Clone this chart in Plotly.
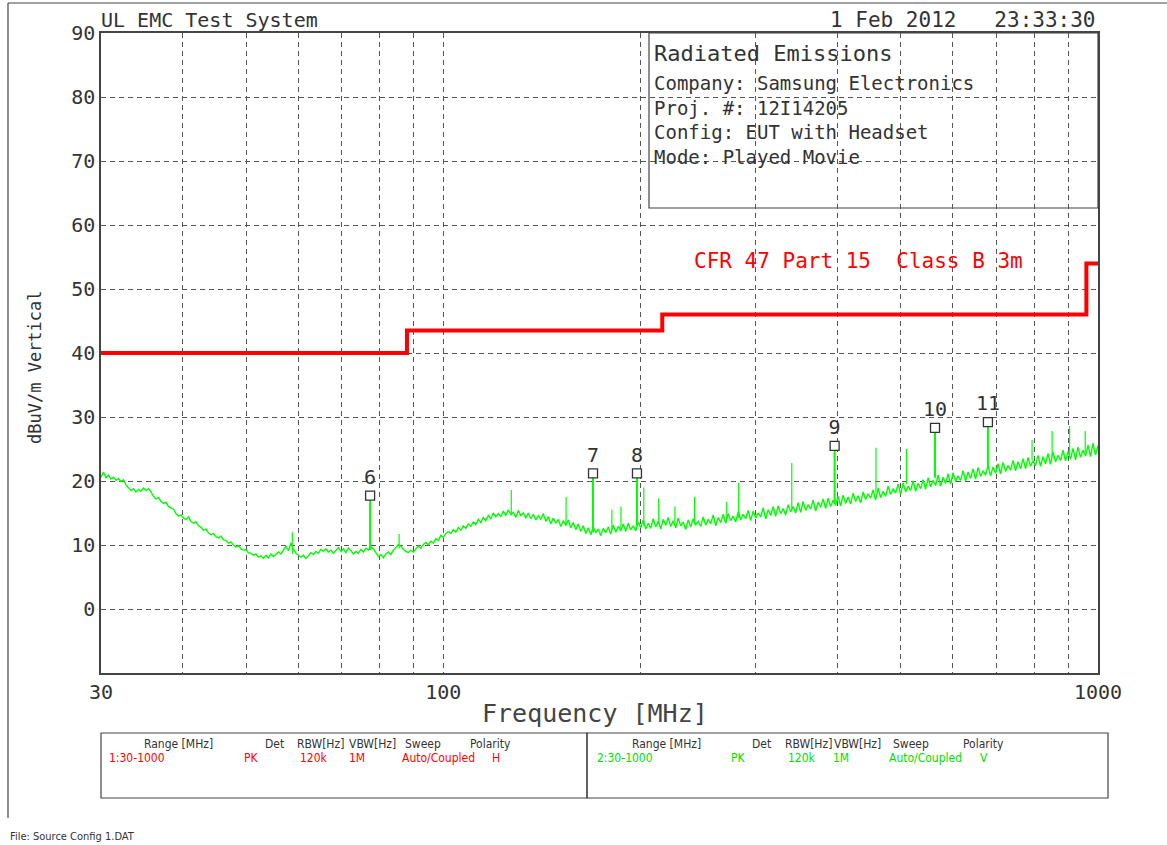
import numpy as np
import plotly.graph_objects as go

# ---------------- data ----------------
# measured (vertical polarity) peak trace, read off the picture, 30 -> 1000 MHz sweep
floor_levels = [
    20.6, 21.4, 20.5, 20.9, 20.3, 20.6, 20.1, 20.4, 19.9, 20.2,
    19.4, 19.0, 18.5, 18.8, 18.3, 18.7, 18.4, 18.9, 18.5, 18.8,
    18.3, 17.6, 17.2, 17.4, 16.8, 16.5, 16.7, 16.0, 15.8, 15.6,
    14.9, 14.5, 14.7, 14.2, 14.0, 14.4, 13.7, 13.4, 13.6, 13.0,
    12.8, 12.3, 12.5, 11.9, 11.6, 11.8, 11.3, 11.1, 11.4, 10.8,
    10.7, 10.3, 10.5, 10.0, 9.7, 9.9, 9.4, 9.2, 9.3, 8.8,
    8.7, 8.4, 8.6, 8.1, 8.3, 7.9, 8.4, 8.0, 8.6, 8.2,
    8.5, 8.9, 8.6, 9.3, 9.8, 9.1, 10.3, 9.4, 8.7, 8.4,
    8.1, 8.4, 7.9, 8.3, 8.8, 8.5, 9.0, 8.7, 9.3, 9.0,
    9.4, 8.9, 9.2, 8.7, 9.1, 9.6, 9.0, 9.4, 8.8, 9.5,
    9.1, 8.6, 9.0, 8.7, 9.3, 8.9, 9.5, 9.2, 9.7, 9.4,
    8.8, 8.2, 8.5, 8.0, 8.6, 8.9, 8.5, 9.2, 9.6, 10.1,
    9.8, 9.3, 9.0, 8.8, 9.2, 8.9, 9.4, 9.8, 9.5, 10.1,
    10.4, 10.0, 10.6, 10.3, 11.0, 10.7, 11.5, 11.2, 11.8, 12.1,
    11.8, 12.4, 12.0, 12.7, 12.3, 13.0, 12.6, 13.3, 12.9, 13.6,
    13.2, 14.0, 13.5, 14.3, 13.8, 14.6, 14.1, 15.0, 14.4, 14.9,
    14.5, 15.3, 14.6, 15.5, 14.8, 15.1, 14.3, 15.4, 14.6, 15.0,
    14.2, 15.0, 14.1, 14.8, 13.9, 14.6, 14.0, 14.9, 13.7, 14.4,
    13.3, 14.2, 13.4, 14.0, 12.9, 13.8, 13.1, 13.9, 12.7, 13.5,
    12.4, 13.3, 12.1, 13.0, 11.8, 12.7, 11.6, 12.8, 11.9, 12.5,
    11.5, 12.6, 11.9, 12.8, 11.7, 13.1, 12.0, 12.9, 12.2, 13.3,
    12.1, 13.4, 12.4, 13.0, 12.2, 13.6, 12.7, 13.9, 12.5, 13.4,
    12.6, 14.1, 12.8, 13.7, 12.5, 14.0, 13.1, 14.3, 12.9, 13.8,
    12.7, 14.2, 13.0, 13.6, 12.4, 13.9, 12.8, 14.1, 13.2, 13.7,
    12.9, 14.4, 13.1, 14.0, 13.3, 14.7, 13.0, 14.3, 13.5, 14.8,
    13.4, 14.9, 13.8, 14.5, 13.6, 15.2, 13.9, 14.8, 14.1, 15.4,
    13.8, 15.3, 14.2, 15.0, 14.4, 15.8, 14.1, 15.5, 14.6, 16.0,
    14.5, 16.1, 14.9, 15.7, 14.7, 16.3, 15.2, 16.0, 15.0, 16.6,
    15.1, 16.8, 15.4, 16.3, 15.6, 17.0, 15.3, 16.7, 15.9, 17.2,
    15.7, 17.3, 16.0, 17.0, 16.2, 17.6, 16.1, 17.8, 16.5, 17.5,
    16.4, 18.1, 16.8, 17.7, 16.6, 18.3, 17.1, 18.0, 17.3, 18.6,
    17.0, 18.9, 17.4, 18.4, 17.6, 19.2, 17.9, 18.8, 18.1, 19.5,
    17.9, 19.7, 18.3, 19.2, 18.5, 20.0, 18.4, 19.6, 18.8, 20.2,
    18.7, 20.5, 19.1, 20.1, 19.3, 20.9, 19.2, 20.6, 19.6, 21.1,
    19.5, 21.3, 19.9, 20.8, 20.1, 21.6, 20.0, 21.4, 20.4, 21.9,
    20.3, 22.1, 20.7, 21.6, 20.9, 22.4, 20.8, 22.2, 21.2, 22.7,
    21.1, 22.9, 21.5, 22.4, 21.7, 23.2, 21.6, 23.0, 21.9, 23.5,
    21.9, 23.7, 22.3, 23.2, 22.4, 24.0, 22.3, 23.8, 22.7, 24.3,
    22.6, 24.5, 23.0, 24.0, 23.2, 24.8, 23.1, 24.6, 23.4, 25.1,
    23.3, 25.3, 23.7, 24.8, 23.9, 25.6, 23.8, 25.9, 24.1, 25.5,
]
floor_freqs = np.geomspace(30, 1000, len(floor_levels))  # analyzer sweep points

# narrow emissions (unlabelled spikes)
spike_freqs = [58.8, 85.6, 127.0, 154.0, 180.9, 186.8, 202.4, 213.3, 225.8, 242.0,
               271.0, 282.6, 340.6, 458.0, 510.0, 793.0, 851.0, 905.0, 956.0]
spike_peaks = [12.0, 11.7, 18.6, 17.5, 15.5, 16.0, 19.0, 17.3, 16.0, 17.5,
               16.7, 19.7, 22.8, 25.2, 25.0, 26.4, 27.8, 28.6, 27.8]
spike_bases = [8.6, 9.4, 14.6, 13.0, 12.4, 12.5, 13.0, 13.3, 13.5, 13.2,
               14.0, 14.2, 15.6, 18.2, 19.5, 23.3, 23.8, 24.1, 24.5]

# numbered markers
marker_labels = ["6", "7", "8", "9", "10", "11"]
marker_freqs = [77.3, 169.3, 197.6, 396.0, 563.7, 679.0]
marker_levels = [17.7, 21.2, 21.2, 25.5, 28.3, 29.2]
marker_bases = [9.2, 12.0, 13.0, 16.6, 20.5, 22.0]

# limit line CFR 47 Part 15 Class B 3m
limit_freqs = [30, 88, 216, 960, 1000]
limit_levels = [40.0, 43.5, 46.0, 54.0, 54.0]

x_tick_vals = [30, 40, 50, 60, 70, 80, 90, 100, 200, 300, 400, 500, 600, 700, 800, 900, 1000]
x_tick_text = ["30", "", "", "", "", "", "", "100", "", "", "", "", "", "", "", "", "1000"]
y_tick_vals = [0, 10, 20, 30, 40, 50, 60, 70, 80, 90]
y_tick_text = ["0", "10", "20", "30", "40", "50", "60", "70", "80", "90"]

table_header = ["Range [MHz]", "Det", "RBW[Hz]", "VBW[Hz]", "Sweep", "Polarity"]
table_row1 = ["1:30-1000", "PK", "120k", "1M", "Auto/Coupled", "H"]
table_row2 = ["2:30-1000", "PK", "120k", "1M", "Auto/Coupled", "V"]

info_lines = ["Company: Samsung Electronics", "Proj. #: 12I14205",
              "Config: EUT with Headset", "Mode: Played Movie"]

# ---------------- style ----------------
MONO = "DejaVu Sans Mono, Liberation Mono, monospace"
NARROW = "Liberation Sans Narrow, DejaVu Sans Condensed, Arial Narrow, sans-serif"
INK = "#333333"
GREEN = "#00ff00"
RED = "#ff0000"

# plot-area pixel box: left 101, right 1098, top 33, bottom 673
def px_x(X):
    return (X - 101) / 997.0

def px_y(Y):
    return (673 - Y) / 640.0


def segs(freqs, lo, hi):
    xs, ys = [], []
    for f, a, b in zip(freqs, lo, hi):
        xs += [f, f, None]
        ys += [a, b, None]
    return xs, ys


fig = go.Figure()

fig.add_trace(go.Scatter(x=floor_freqs, y=floor_levels, mode="lines",
                         line=dict(color=GREEN, width=1.4), hoverinfo="skip"))

sx, sy = segs(spike_freqs, spike_bases, spike_peaks)
fig.add_trace(go.Scatter(x=sx, y=sy, mode="lines", line=dict(color=GREEN, width=1.2),
                         hoverinfo="skip"))

mx, my = segs(marker_freqs, marker_bases, marker_levels)
fig.add_trace(go.Scatter(x=mx, y=my, mode="lines", line=dict(color=GREEN, width=2),
                         hoverinfo="skip"))

fig.add_trace(go.Scatter(x=limit_freqs, y=limit_levels, mode="lines", line_shape="hv",
                         line=dict(color=RED, width=4), hoverinfo="skip"))

fig.add_trace(go.Scatter(x=marker_freqs, y=marker_levels, mode="markers+text",
                         text=marker_labels, textposition="top center",
                         textfont=dict(family=MONO, size=20, color=INK),
                         marker=dict(symbol="square", size=9, color="white",
                                     line=dict(color=INK, width=1.3)),
                         hoverinfo="skip"))

fig.update_layout(
    width=1167, height=845,
    margin=dict(l=101, r=69, t=33, b=172),
    paper_bgcolor="white", plot_bgcolor="white",
    showlegend=False,
    font=dict(family=MONO, color=INK),
)

grid = dict(showgrid=True, gridcolor="#555555", griddash="5px,4px", gridwidth=1,
            showline=True, linecolor="#444444", linewidth=1.5, mirror=True,
            ticks="", zeroline=False, tickfont=dict(family=MONO, size=20, color=INK))

fig.update_xaxes(type="log", range=[np.log10(30), np.log10(1000)],
                 tickmode="array", tickvals=x_tick_vals, ticktext=x_tick_text, **grid)
fig.update_yaxes(range=[-10, 90], tickmode="array", tickvals=y_tick_vals,
                 ticktext=y_tick_text, **grid)

shapes = [
    # info box (covers the grid)
    dict(type="rect", xref="paper", yref="paper", x0=px_x(649), x1=1.0,
         y0=px_y(208), y1=1.0, fillcolor="white", line=dict(color="#444444", width=1.2),
         layer="between"),
    # outer frame lines
    dict(type="line", xref="paper", yref="paper", x0=px_x(8), x1=px_x(1167),
         y0=px_y(3), y1=px_y(3), line=dict(color="#444444", width=1.2)),
    dict(type="line", xref="paper", yref="paper", x0=px_x(8), x1=px_x(8),
         y0=px_y(3), y1=px_y(818), line=dict(color="#444444", width=1.2)),
    # bottom table boxes
    dict(type="rect", xref="paper", yref="paper", x0=px_x(101), x1=px_x(587),
         y0=px_y(798), y1=px_y(733), line=dict(color="#444444", width=1.2)),
    dict(type="rect", xref="paper", yref="paper", x0=px_x(587), x1=px_x(1108),
         y0=px_y(798), y1=px_y(733), line=dict(color="#444444", width=1.2)),
]
fig.update_layout(shapes=shapes)

ann = []

def text(x, y, s, size, color=INK, family=MONO, xanchor="left", **kw):
    ann.append(dict(x=px_x(x), y=px_y(y), xref="paper", yref="paper", text=s,
                    showarrow=False, xanchor=xanchor, yanchor="middle",
                    font=dict(family=family, size=size, color=color), **kw))

text(99, 20, "UL EMC Test System", 20)
text(1098, 20, "1 Feb 2012   23:33:30", 21, xanchor="right")
text(652, 53, "Radiated Emissions", 22)
text(652, 120, "<br>".join(info_lines), 19, align="left")
text(692, 261, "CFR 47 Part 15  Class B 3m", 21, color=RED)
text(595, 713, "Frequency [MHz]", 25, color="#444444", xanchor="center")
text(35, 367, "dBuV/m Vertical", 17, xanchor="center", textangle=-90)

hx1 = [142, 263, 295, 347, 403, 468]
rx1 = [107, 242, 298, 347, 400, 490]
hx2 = [630, 750, 783, 832, 891, 961]
rx2 = [595, 729, 786, 831, 887, 978]
for s, a in zip(table_header, hx1):
    text(a, 744, s, 12, family=NARROW)
for s, a in zip(table_row1, rx1):
    text(a, 758, s, 12, color=RED, family=NARROW)
for s, a in zip(table_header, hx2):
    text(a, 744, s, 12, family=NARROW)
for s, a in zip(table_row2, rx2):
    text(a, 758, s, 12, color="#00e000", family=NARROW)
text(8, 836, "File: Source Config 1.DAT", 11, family=NARROW)

fig.update_layout(annotations=ann)

fig.write_html("out.html")
